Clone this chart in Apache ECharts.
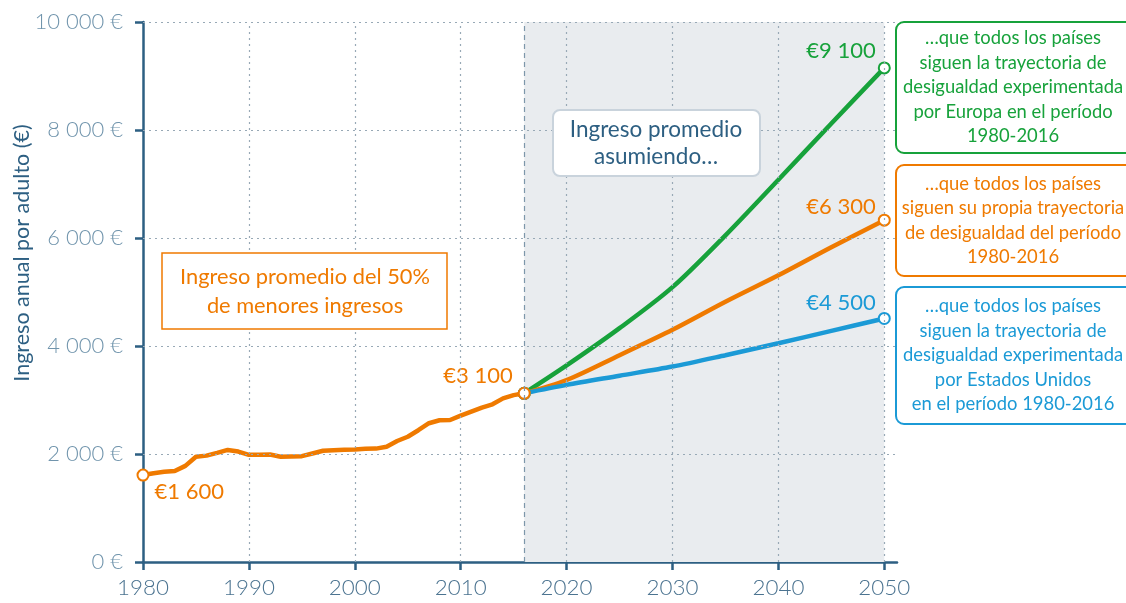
<!DOCTYPE html>
<html>
<head>
<meta charset="utf-8">
<script src="https://cdn.jsdelivr.net/npm/echarts@6/dist/echarts.min.js"></script>
<style>
  html, body { margin: 0; padding: 0; background: #fff; }
  #chart { width: 1126px; height: 603px; }
</style>
</head>
<body>
<div id="chart"></div>
<script>
// historical series 1980-2016
const years = [1980, 1981, 1982, 1983, 1984, 1985, 1986, 1987, 1988, 1989,
  1990, 1991, 1992, 1993, 1994, 1995, 1996, 1997, 1998, 1999,
  2000, 2001, 2002, 2003, 2004, 2005, 2006, 2007, 2008, 2009,
  2010, 2011, 2012, 2013, 2014, 2015, 2016];
const historico = [1610, 1645, 1670, 1685, 1780, 1950, 1970, 2020, 2075, 2045,
  1985, 1985, 1990, 1950, 1955, 1960, 2010, 2060, 2070, 2080,
  2085, 2095, 2100, 2135, 2240, 2320, 2440, 2570, 2625, 2630,
  2710, 2785, 2860, 2920, 3030, 3090, 3124];
const histLabels = ['€1 600', '€3 100'];

// projections 2016-2050
const projYears = [2016, 2020, 2025, 2030, 2035, 2040, 2045, 2050];
const europa = [3124, 3640, 4330, 5090, 6050, 7080, 8120, 9150];
const propia = [3124, 3370, 3830, 4300, 4820, 5310, 5830, 6330];
const eeuu = [3124, 3280, 3450, 3620, 3830, 4050, 4280, 4510];
const projLabels = ['€9 100', '€6 300', '€4 500'];

const xTicks = [1980, 1990, 2000, 2010, 2020, 2030, 2040, 2050];
const yTicks = [2000, 4000, 6000, 8000, 10000];

const ORANGE = '#ef7a00';
const GREEN = '#17a23b';
const BLUE = '#1b9ad6';
const AXIS = '#2d5f82';
const GRIDC = '#98a9b6';

const fmtNum = v => String(v).replace(/\B(?=(\d{3})+(?!\d))/g, ' ');

const endLabel = (text, color, offset) => ({
  show: true,
  formatter: text,
  position: 'left',
  offset: offset,
  color: color,
  fontSize: 22,
  fontFamily: 'Lato'
});

const pointItems = (xs, ys, color, firstLabel, lastLabel) => xs.map((x, i) => {
  const item = { value: [x, ys[i]], symbol: 'none' };
  const first = i === 0, last = i === xs.length - 1;
  if ((first && firstLabel !== undefined) || (last && lastLabel !== undefined)) {
    item.symbol = 'emptyCircle';
    item.symbolSize = 11;
    item.itemStyle = { color: color, borderColor: color, borderWidth: 3 };
  }
  if (first && firstLabel) item.label = firstLabel;
  if (last && lastLabel) item.label = lastLabel;
  return item;
});

const chart = echarts.init(document.getElementById('chart'));

const dotted = { color: GRIDC, type: [2, 4], width: 1.2 };

const box = (x, y, w, h, r, stroke, lw, tx, text, color, size, lh) => ({
  type: 'group',
  z: 100,
  children: [
    { type: 'rect', z: 100, shape: { x: x, y: y, width: w, height: h, r: r },
      style: { fill: '#fff', stroke: stroke, lineWidth: lw } },
    { type: 'text', z: 101, x: tx, y: y + h / 2,
      style: { text: text, fill: color, fontSize: size, lineHeight: lh, fontFamily: 'Lato',
        textAlign: 'center', textVerticalAlign: 'middle' } }
  ]
});

const option = {
  animation: false,
  textStyle: { fontFamily: 'Lato' },
  grid: { left: 143, right: 229, top: 22, bottom: 41 },
  xAxis: {
    type: 'value',
    min: 1980,
    max: 2051.2,
    axisLine: { lineStyle: { color: AXIS, width: 2.5 } },
    axisTick: { customValues: xTicks, length: 8, lineStyle: { color: AXIS, width: 2.5 } },
    axisLabel: {
      customValues: xTicks,
      margin: 15,
      color: '#4b7390',
      fontSize: 22.4,
      fontWeight: 300,
      fontFamily: 'Lato',
      formatter: v => String(v)
    },
    splitLine: { show: false }
  },
  yAxis: {
    type: 'value',
    min: 0,
    max: 10000,
    interval: 2000,
    axisLine: { show: true, lineStyle: { color: AXIS, width: 2.5 } },
    axisTick: { show: true, length: 8, lineStyle: { color: AXIS, width: 2.5 } },
    axisLabel: {
      margin: 20,
      color: '#7094ac',
      fontSize: 22,
      fontWeight: 300,
      fontFamily: 'Lato',
      formatter: v => fmtNum(v) + ' €'
    },
    splitLine: { show: false }
  },
  graphic: [
    {
      type: 'text',
      z: 100,
      x: 22, y: 253,
      rotation: Math.PI / 2,
      style: {
        text: 'Ingreso anual por adulto (€)',
        fill: AXIS, fontSize: 21.5, fontFamily: 'Lato',
        textAlign: 'center', textVerticalAlign: 'middle'
      }
    },
    box(162, 253, 285, 76, 0, ORANGE, 1.5, 305,
      'Ingreso promedio del 50%\nde menores ingresos', ORANGE, 21.8, 29),
    box(553, 110, 207, 66, 7, '#c9d3dc', 2, 656,
      'Ingreso promedio\nasumiendo…', AXIS, 22.5, 27),
    box(896, 22, 240, 131, 8, GREEN, 2, 1013,
      '…que todos los países\nsiguen la trayectoria de\ndesigualdad experimentada\npor Europa en el período\n1980-2016',
      GREEN, 18.4, 24.5),
    box(896, 165, 240, 111, 8, ORANGE, 2, 1013,
      '…que todos los países\nsiguen su propia trayectoria\nde desigualdad del período\n1980-2016',
      ORANGE, 18.4, 24.5),
    box(896, 287, 240, 137, 8, BLUE, 2, 1013,
      '…que todos los países\nsiguen la trayectoria de\ndesigualdad experimentada\npor Estados Unidos\nen el período 1980-2016',
      BLUE, 18.4, 24.5)
  ],
  series: [
    {
      // shaded projection period
      name: 'sombra',
      type: 'line',
      data: [],
      z: 1,
      silent: true,
      markArea: {
        silent: true,
        itemStyle: { color: '#e9ecef' },
        data: [[{ xAxis: 2016 }, { xAxis: 2050 }]]
      }
    },
    {
      // grid lines drawn above the shade
      name: 'rejilla',
      type: 'line',
      data: [],
      z: 2,
      silent: true,
      markLine: {
        silent: true,
        symbol: 'none',
        label: { show: false },
        lineStyle: dotted,
        data: xTicks.slice(1).map(x => ({ xAxis: x }))
          .concat(yTicks.map(y => ({ yAxis: y })))
          .concat([{ xAxis: 2016, lineStyle: { color: '#7d97aa', type: [5, 4], width: 1.2 } }])
      }
    },
    {
      name: 'Europa',
      type: 'line',
      z: 3,
      smooth: 0.3,
      lineStyle: { color: GREEN, width: 4.5 },
      itemStyle: { color: GREEN },
      data: pointItems(projYears, europa, GREEN, null, endLabel(projLabels[0], GREEN, [3, -17]))
    },
    {
      name: 'Propia',
      type: 'line',
      z: 3,
      smooth: 0.3,
      lineStyle: { color: ORANGE, width: 4.5 },
      itemStyle: { color: ORANGE },
      data: pointItems(projYears, propia, ORANGE, null, endLabel(projLabels[1], ORANGE, [3, -13]))
    },
    {
      name: 'EEUU',
      type: 'line',
      z: 3,
      smooth: 0.3,
      lineStyle: { color: BLUE, width: 4.5 },
      itemStyle: { color: BLUE },
      data: pointItems(projYears, eeuu, BLUE, null, endLabel(projLabels[2], BLUE, [3, -16]))
    },
    {
      name: 'Histórico',
      type: 'line',
      z: 4,
      lineStyle: { color: ORANGE, width: 4.5 },
      itemStyle: { color: ORANGE },
      data: pointItems(years, historico, ORANGE,
        Object.assign(endLabel(histLabels[0], ORANGE, [0, 17]), { position: 'right' }),
        endLabel(histLabels[1], ORANGE, [0, -17]))
    }
  ]
};

chart.setOption(option);
</script>
</body>
</html>
